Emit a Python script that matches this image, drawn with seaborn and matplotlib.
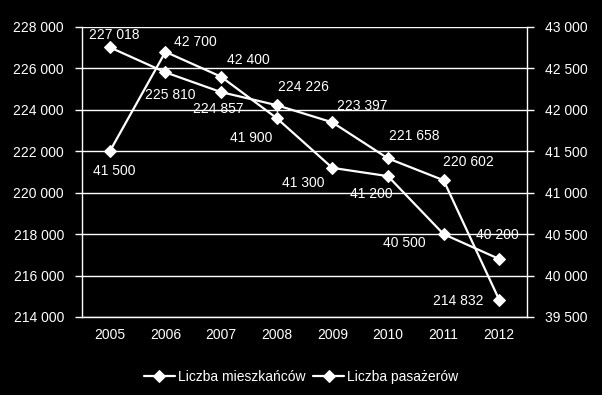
import matplotlib
matplotlib.use("Agg")
import matplotlib.pyplot as plt
import matplotlib.ticker as mticker
import seaborn as sns
import pandas as pd
import numpy as np

years = ["2005", "2006", "2007", "2008", "2009", "2010", "2011", "2012"]
mieszkancy = [227018, 225810, 224857, 224226, 223397, 221658, 220602, 214832]
pasazerowie = [41500, 42700, 42400, 41900, 41300, 41200, 40500, 40200]
label_s1 = "Liczba mieszkańców"
label_s2 = "Liczba pasażerów"

# label offsets in pixels (placement only)
off_s1 = [(4, 12), (5, -23), (-3, -17), (27, 18), (30, 16), (26, 22), (25, 18), (-41, -1)]
off_s2 = [(4, -20), (30, 10), (27, 17), (-26, -20), (-29, -15), (-17, -18), (-39, -9), (-2, 24)]

sns.set_theme(style="dark")
plt.rcParams['font.family'] = ['Liberation Sans', 'DejaVu Sans']
FS = 10

fig = plt.figure(figsize=(6.02, 3.95), dpi=100, facecolor="black")
ax = fig.add_axes([82/602, 1-317/395, (527-82)/602, (317-27)/395])
ax.set_facecolor("black")
ax2 = ax.twinx()

pos = np.arange(len(years))
df = pd.DataFrame({"pos": pos, "s1": mieszkancy, "s2": pasazerowie})

def fmt(v, p=None):
    return f"{int(round(v)):,}".replace(",", " ")

sns.lineplot(data=df, x="pos", y="s1", ax=ax, color="white", lw=1.6,
             marker="D", markersize=6, markeredgecolor="white", label=label_s1, legend=False)
sns.lineplot(data=df, x="pos", y="s2", ax=ax2, color="white", lw=1.6,
             marker="D", markersize=6, markeredgecolor="white", label=label_s2, legend=False)

for i in range(len(years)):
    ax.annotate(fmt(mieszkancy[i]), (pos[i], mieszkancy[i]), xytext=off_s1[i],
                textcoords="offset pixels", ha="center", va="center", color="white", fontsize=FS)
    ax2.annotate(fmt(pasazerowie[i]), (pos[i], pasazerowie[i]), xytext=off_s2[i],
                 textcoords="offset pixels", ha="center", va="center", color="white", fontsize=FS)

ax.set_xlim(-0.5, len(years) - 0.5)
ax.set_ylim(214000, 228000)
ax2.set_ylim(39500, 43000)
ax.set_yticks(np.arange(214000, 228001, 2000))
ax2.set_yticks(np.arange(39500, 43001, 500))
ax.yaxis.set_major_formatter(mticker.FuncFormatter(fmt))
ax2.yaxis.set_major_formatter(mticker.FuncFormatter(fmt))

ax.set_xticks(np.arange(-0.5, len(years), 1.0))
ax.set_xticklabels([])
ax.set_xticks(pos, minor=True)
ax.set_xticklabels(years, minor=True)
ax.tick_params(axis="x", which="major", length=5, width=1, color="white", direction="out")
ax.tick_params(axis="x", which="minor", length=0, pad=8, labelsize=FS, labelcolor="white")
ax.tick_params(axis="y", length=5, width=1, color="white", direction="out", pad=8,
               labelsize=FS, labelcolor="white", left=True)
ax2.tick_params(axis="y", length=5, width=1, color="white", direction="out", pad=8,
                labelsize=FS, labelcolor="white", right=True)

ax.grid(True, axis="y", color="white", lw=1)
ax.grid(False, axis="x")
ax2.grid(False)
ax.set_xlabel("")
ax.set_ylabel("")
ax2.set_ylabel("")

for a in (ax, ax2):
    for s in a.spines.values():
        s.set_visible(False)
ax.spines["left"].set_visible(True)
ax.spines["left"].set_color("white")
ax.spines["bottom"].set_visible(True)
ax.spines["bottom"].set_color("white")
ax2.spines["right"].set_visible(True)
ax2.spines["right"].set_color("white")
for s in ("left", "bottom"):
    ax.spines[s].set_linewidth(1)
ax2.spines["right"].set_linewidth(1)

h1, l1 = ax.get_legend_handles_labels()
h2, l2 = ax2.get_legend_handles_labels()
fig.legend(h1 + h2, l1 + l2, loc="center", bbox_to_anchor=(0.5, 1-377/395), ncol=2,
           frameon=False, fontsize=FS, labelcolor="white", handlelength=2.2,
           handletextpad=0.2, columnspacing=0.6)

fig.savefig("out.png", dpi=100, facecolor="black")
